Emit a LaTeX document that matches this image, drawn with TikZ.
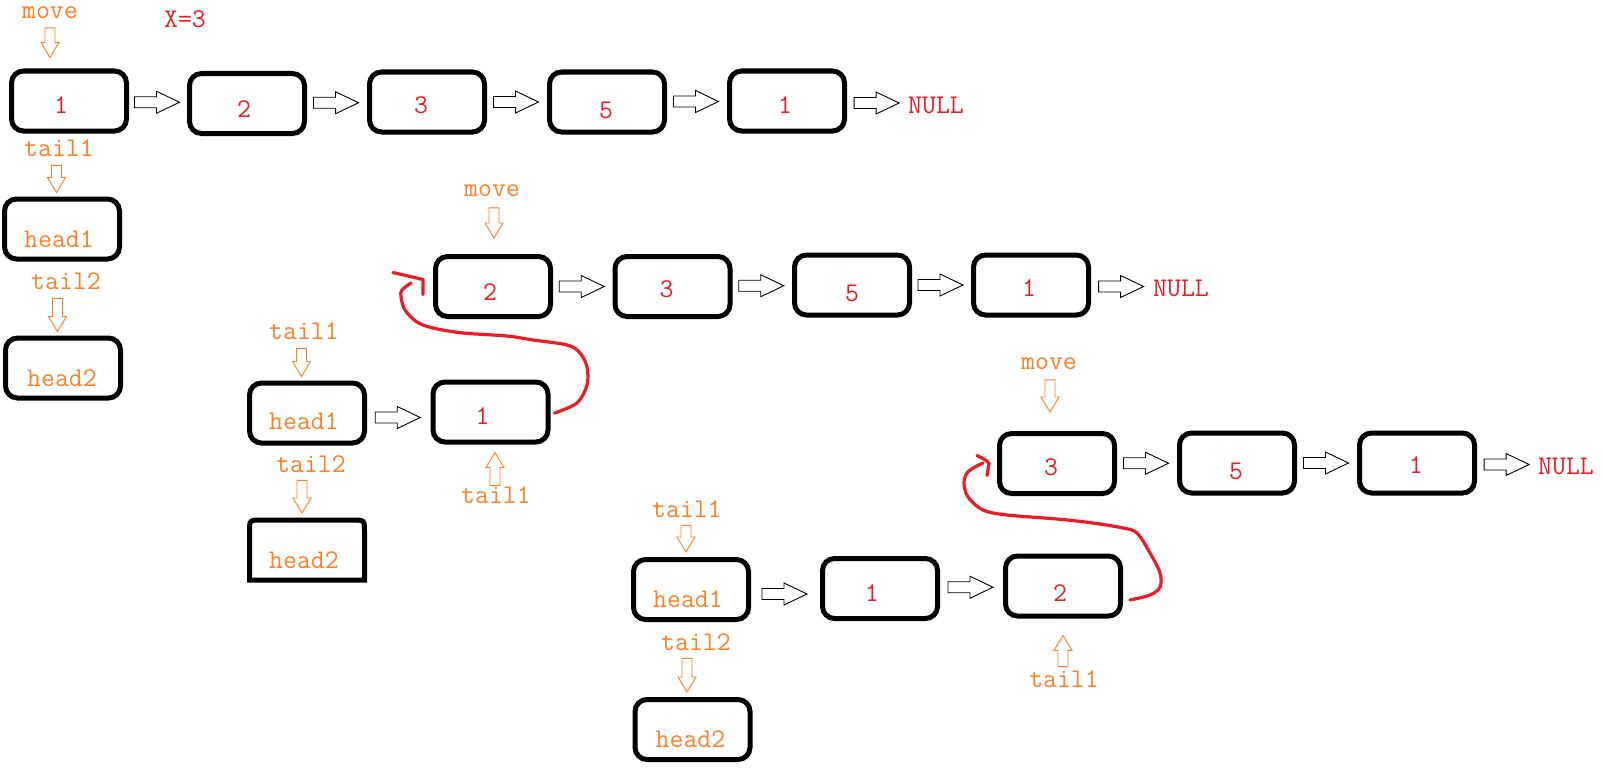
\documentclass[tikz,border=0pt]{standalone}
\usepackage{fontspec}
\usetikzlibrary{calc}
\definecolor{paintorange}{RGB}{255,127,39}
\definecolor{paintred}{RGB}{237,28,36}
\tikzset{
  every node/.style={inner sep=0pt, outer sep=0pt},
  txt/.style={font=\ttfamily\fontsize{27pt}{27pt}\selectfont, text depth=0pt},
  ptr/.style={txt, text=paintorange},
  num/.style={txt, text=paintred},
  box/.style={draw, line width=5pt, rounded corners=12pt, minimum width=115pt, minimum height=60pt, outer sep=2.5pt},
  boxshape/.style={minimum width=115pt, minimum height=60pt},
  boxline/.style={draw, line width=5pt},
  hblk/.style={draw=black, line width=0.9pt, fill=white, to path={let \p1=(\tikztostart), \p2=(\tikztotarget), \p3=($(\p1)!0.5!(\p2)$) in
     (\x3-23.5pt,\y3+5.5pt) -- (\x3-1.5pt,\y3+5.5pt) -- (\x3-1.5pt,\y3+11pt) -- (\x3+21.5pt,\y3)
     -- (\x3-1.5pt,\y3-11pt) -- (\x3-1.5pt,\y3-5.5pt) -- (\x3-23.5pt,\y3-5.5pt) -- cycle}},
  dnptr/.style={draw=paintorange, line width=0.9pt, fill=white, to path={let \p1=(\tikztostart), \p2=(\tikztotarget) in
     (\x1-5pt,\y1) -- (\x1-5pt,\y2+15pt) -- (\x1-9pt,\y2+15pt) -- (\x1,\y2) -- (\x1+9pt,\y2+15pt) -- (\x1+5pt,\y2+15pt) -- (\x1+5pt,\y1) -- cycle}},
  upptr/.style={draw=paintorange, line width=0.9pt, fill=white, to path={let \p1=(\tikztostart), \p2=(\tikztotarget) in
     (\x1-5pt,\y1) -- (\x1-5pt,\y2-15pt) -- (\x1-9pt,\y2-15pt) -- (\x1,\y2) -- (\x1+9pt,\y2-15pt) -- (\x1+5pt,\y2-15pt) -- (\x1+5pt,\y1) -- cycle}},
  redline/.style={draw=paintred, line width=3.2pt, line cap=round, line join=round}
}
\begin{document}
\begin{tikzpicture}[x=1pt, y=-1pt]
\fill[white] (0,0) rectangle (1603,768);
\useasboundingbox (0,0) rectangle (1603,768);

% ---------------- row 1 ----------------
\node[ptr] (mv1) at (50,13) {move};
\node[num] (xeq) at (185,19) {X=3};
\node[box, label={[num, shift={(-8,4)}]center:1}] (a1) at (69,101) {};
\node[box, label={[num, shift={(-3,6)}]center:2}] (a2) at (247,103.5) {};
\node[box, label={[num, shift={(-6,3)}]center:3}] (a3) at (427,102) {};
\node[box, label={[num, shift={(-1,8)}]center:5}] (a4) at (607,102) {};
\node[box, label={[num, shift={(-2,4)}]center:1}] (a5) at (787,101) {};
\node[num] (n1) at (936,105) {NULL};
\draw[hblk] (a1.east) to (a2.west);
\draw[hblk] (a2.east) to (a3.west);
\draw[hblk] (a3.east) to (a4.west);
\draw[hblk] (a4.east) to (a5.west);
\draw[hblk] (a5.east) to (n1.west);
\draw[dnptr] ($(mv1.south)+(0,9)$) to ($(mv1.south |- a1.north)+(0,-11)$);

\node[ptr] (t11) at (59,148) {tail1};
\node[box, label={[ptr, shift={(-3,10)}]center:head1}] (hd1) at (62,229) {};
\draw[dnptr] ($(t11.south)+(-2.5,9)$) to ($(t11.south |- hd1.north)+(-2.5,-4)$);
\node[ptr] (t12) at (66,281) {tail2};
\node[box, label={[ptr, shift={(-1,10)}]center:head2}] (hd2) at (63,368) {};
\draw[dnptr] ($(t12.south)+(-8.5,9)$) to ($(t12.south |- hd2.north)+(-8.5,-4)$);

% ---------------- row 2 ----------------
\node[ptr] (mv2) at (492,191) {move};
\node[box, label={[num, shift={(-3,6)}]center:2}] (b1) at (493,286.5) {};
\node[box, label={[num, shift={(-6,3)}]center:3}] (b2) at (672.5,286.5) {};
\node[box, label={[num, shift={(0,8)}]center:5}] (b3) at (852,285) {};
\node[box, label={[num, shift={(-2,3)}]center:1}] (b4) at (1031,285) {};
\node[num] (n2) at (1181,288) {NULL};
\draw[hblk] (b1.east) to (b2.west);
\draw[hblk] (b2.east) to (b3.west);
\draw[hblk] (b3.east) to (b4.west);
\draw[hblk] (b4.east) to (n2.west);
\draw[dnptr] ($(mv2.south)+(2,11)$) to ($(mv2.south |- b1.north)+(2,-16)$);

\node[ptr] (tl21) at (304,331) {tail1};
\node[box, label={[ptr, shift={(-3,8)}]center:head1}] (h21) at (307,413) {};
\draw[dnptr] ($(tl21.south)+(-2.5,9)$) to ($(tl21.south |- h21.north)+(-2.5,-4)$);
\node[box, label={[num, shift={(-8,4)}]center:1}] (c21) at (490.5,412) {};
\draw[hblk] ($(h21.east)+(0,5)$) to ($(c21.west)+(0,5)$);
\node[ptr] (tl22) at (496,495) {tail1};
\draw[upptr] ($(tl22.north)+(-1,-1)$) to ($(tl22.north |- c21.south)+(-1,8)$);
\node[ptr] (tl23) at (311,464) {tail2};
\node[boxshape] (h22) at (307,550) {};
\node[ptr] (h22t) at ($(h22.center)+(-3,10)$) {head2};
\draw[boxline] (h22.south west) -- ($(h22.north west)+(0,12)$) .. controls (h22.north west) .. ($(h22.north west)+(12,0)$)
   -- ($(h22.north east)+(-12,0)$) .. controls (h22.north east) .. ($(h22.north east)+(0,12)$) -- (h22.south east) -- cycle;
\draw[dnptr] ($(tl23.south)+(-9,8)$) to ($(tl23.south |- h22.north)+(-9,-7)$);

\coordinate (r1s) at ($(c21.east)+(4,1)$);
\draw[redline] plot[smooth, tension=0.55] coordinates {(r1s) (577,403) (587,385) (587,367) (580,353) (567,345) (533,340) (507,336) (463,333) (433,328) (417,322) (405,310) (401,297) (402,290) (411,283)};
\coordinate (r1h) at ($(b1.west)+(-10,-7)$);
\draw[redline] ($(r1h)+(-30,-7)$) -- (r1h) -- ($(r1h)+(0,15)$);

% ---------------- row 3 ----------------
\node[ptr] (mv3) at (1049,364) {move};
\node[box, label={[num, shift={(-6,4)}]center:3}] (c31) at (1057,463.5) {};
\node[box, label={[num, shift={(-1,8)}]center:5}] (c32) at (1237,463) {};
\node[box, label={[num, shift={(-1,2)}]center:1}] (c33) at (1417,463) {};
\node[num] (n3) at (1566,466) {NULL};
\draw[hblk] (c31.east) to (c32.west);
\draw[hblk] (c32.east) to (c33.west);
\draw[hblk] (c33.east) to (n3.west);
\draw[dnptr] ($(mv3.south)+(1,10)$) to ($(mv3.south |- c31.north)+(1,-19)$);

\node[ptr] (tl31) at (687,509) {tail1};
\node[box, label={[ptr, shift={(-3,10)}]center:head1}] (h31) at (691,589.5) {};
\draw[dnptr] ($(tl31.south)+(-1,8)$) to ($(tl31.south |- h31.north)+(-1,-5)$);
\node[box, label={[num, shift={(-8,5)}]center:1}] (c34) at (880,588.5) {};
\node[box, label={[num, shift={(-3,7)}]center:2}] (c35) at (1063,586) {};
\draw[hblk] ($(h31.east)+(0,5)$) to ($(c34.west)+(0,5)$);
\draw[hblk] (c34.east) to (c35.west);
\node[ptr] (tl33) at (1064,679) {tail1};
\draw[upptr] ($(tl33.north)+(-1,-4)$) to ($(tl33.north |- c35.south)+(-1,17)$);
\node[ptr] (tl32) at (696,642) {tail2};
\node[box, label={[ptr, shift={(-2,10)}]center:head2}] (h32) at (692.5,729.5) {};
\draw[dnptr] ($(tl32.south)+(-9,8)$) to ($(tl32.south |- h32.north)+(-9,-5)$);

\coordinate (r2s) at ($(c35.east)+(7,14)$);
\draw[redline] plot[smooth, tension=0.55] coordinates {(r2s) (1150,595) (1160,587) (1160,573) (1150,553) (1137,533) (1123,528) (1093,523) (1057,519) (1007,515) (983,510) (968,497) (964,483) (967,473) (975,467) (983,463)};
\coordinate (r2h) at ($(c31.west)+(-8,0)$);
\draw[redline] ($(r2h)+(-12,-8)$) .. controls ($(r2h)+(-2,-3)$) .. (r2h) -- ($(r2h)+(-2,12)$);
\end{tikzpicture}
\end{document}
